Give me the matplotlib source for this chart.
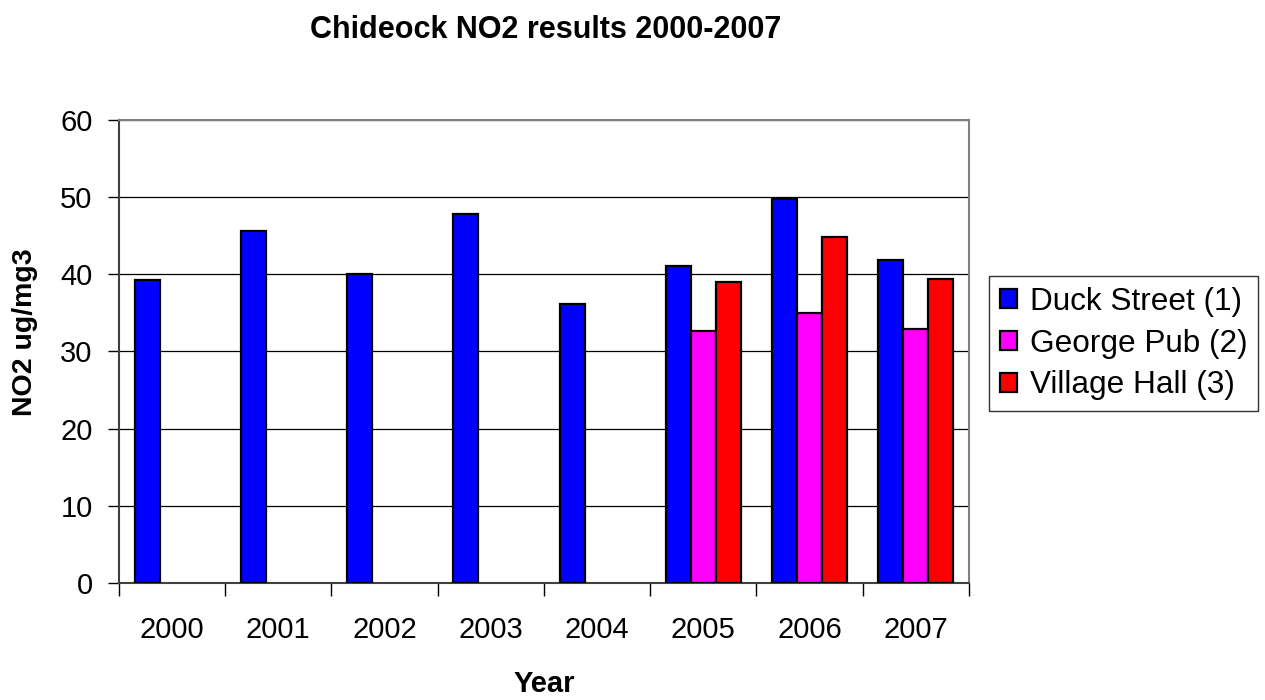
import matplotlib.pyplot as plt
import numpy as np

plt.rcParams["font.family"] = ["Liberation Sans", "DejaVu Sans"]

# ----------------------------- Data ------------------------------------------

YEARS = ["2000", "2001", "2002", "2003", "2004", "2005", "2006", "2007"]
DUCK_STREET = [39.2, 45.6, 40.0, 47.8, 36.2, 41.0, 49.7, 41.8]
GEORGE_PUB = [np.nan, np.nan, np.nan, np.nan, np.nan, 32.7, 35.0, 32.85]
VILLAGE_HALL = [np.nan, np.nan, np.nan, np.nan, np.nan, 39.0, 44.8, 39.4]

SERIES = [
    ("Duck Street (1)", DUCK_STREET, "#0000ff"),
    ("George Pub (2)", GEORGE_PUB, "#ff00ff"),
    ("Village Hall (3)", VILLAGE_HALL, "#ff0000"),
]

BAR_WIDTH = 0.235
FS = 21


def main():
    fig = plt.figure(figsize=(12.65, 7.0), dpi=100)
    ax = fig.add_axes([0.094, 0.167, 0.672, 0.662])

    x = np.arange(len(YEARS))
    for i, (label, values, color) in enumerate(SERIES):
        ax.bar(x + (i - 1) * BAR_WIDTH, values, BAR_WIDTH, color=color,
               edgecolor="black", linewidth=1.6, label=label, zorder=3)

    ax.set_xlim(-0.5, len(YEARS) - 0.5)
    ax.set_ylim(0, 60)
    ax.set_yticks(np.arange(0, 61, 10))
    ax.yaxis.grid(True, color="black", linewidth=0.9, zorder=0)

    ax.set_xticks(x)
    ax.set_xticklabels(YEARS)
    ax.set_xticks(np.arange(-0.5, len(YEARS)), minor=True)
    ax.tick_params(axis="x", which="major", length=0, pad=24, labelsize=FS)
    ax.tick_params(axis="x", which="minor", length=9.5, width=1.0, direction="out")
    ax.tick_params(axis="y", which="major", length=8, width=1.0, labelsize=FS, pad=11)

    for side in ("top", "right"):
        ax.spines[side].set_color("#808080")
        ax.spines[side].set_linewidth(1.5)
    for side in ("left", "bottom"):
        ax.spines[side].set_color("#404040")
        ax.spines[side].set_linewidth(1.5)

    ax.set_xlabel("Year", fontsize=FS, fontweight="bold")
    ax.xaxis.set_label_coords(0.5, -0.188)
    ax.set_ylabel("NO2 ug/mg3", fontsize=20.5, fontweight="bold")
    ax.yaxis.set_label_coords(-0.095, 0.542)
    fig.text(0.431, 0.957, "Chideock NO2 results 2000-2007", ha="center", va="center",
             fontsize=22, fontweight="bold")

    leg = ax.legend(loc="center left", bbox_to_anchor=(1.0235, 0.517), fontsize=22.7,
                    frameon=True, fancybox=False, edgecolor="black",
                    handlelength=0.55, handleheight=0.55, handletextpad=0.4,
                    borderpad=0.34, labelspacing=0.37, borderaxespad=0)
    leg.get_frame().set_linewidth(1.0)

    fig.savefig("out.png", dpi=100)


if __name__ == "__main__":
    main()
